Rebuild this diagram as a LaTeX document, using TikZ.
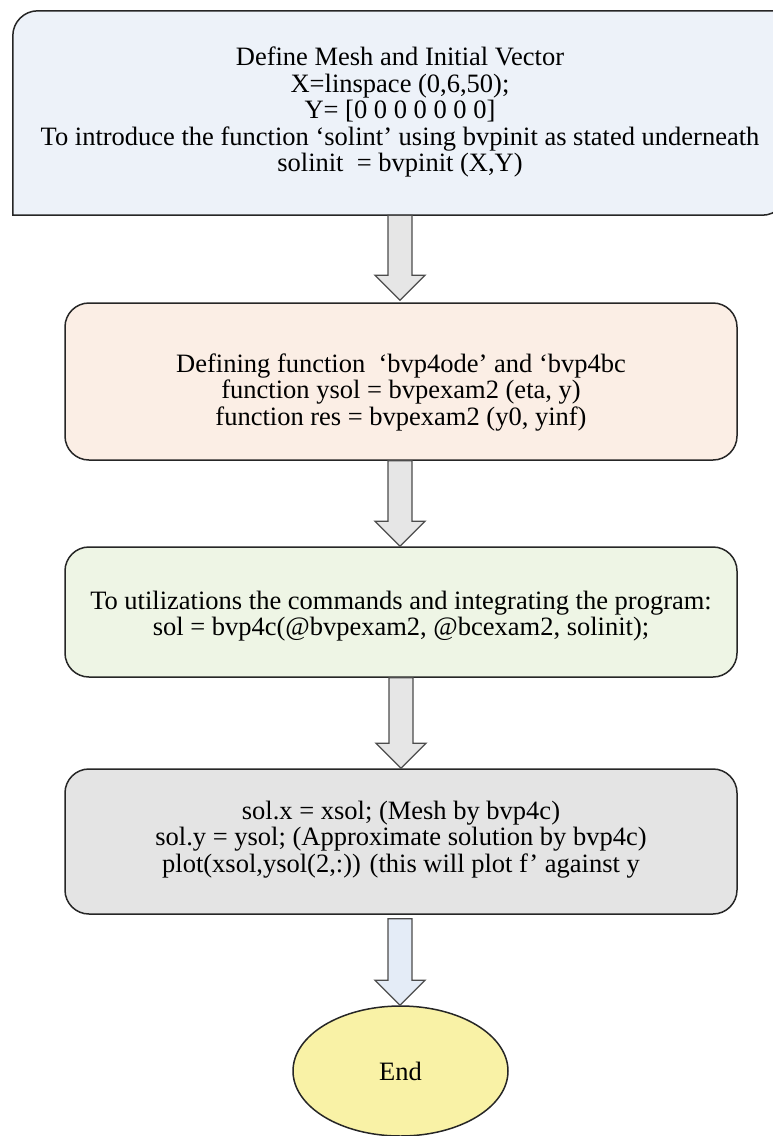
\documentclass[tikz,border=0pt]{standalone}
\usepackage{fontspec}
\setmainfont{Liberation Serif}
\usetikzlibrary{calc,shapes.geometric}
\definecolor{cbox1}{HTML}{EDF2F9}
\definecolor{cbox2}{HTML}{FBEEE5}
\definecolor{cbox3}{HTML}{EEF5E5}
\definecolor{cbox4}{HTML}{E4E4E4}
\definecolor{cend}{HTML}{F9F2A6}
\definecolor{carrg}{HTML}{E6E6E6}
\definecolor{carrb}{HTML}{E4ECF7}
\tikzset{
  txt/.style={align=center, font=\fontsize{26.5}{26.5}\selectfont, text=black, inner sep=0pt},
  boxline/.style={draw=black!85, line width=1.5pt},
  stepbox/.style={boxline, rounded corners=24pt, minimum width=672, inner sep=0pt},
  endnode/.style={txt, boxline, ellipse, minimum width=215, minimum height=130, inner sep=0pt},
  blk/.style={draw=black!70, line width=1.3pt, line join=miter},
}
\newcommand\blkarrow[3]{%
  \path let \p1=(#2), \p2=(#3) in
    [blk, fill=#1]
    (\x1-12pt,\y1) -- (\x1-12pt,\y2+25pt) -- (\x1-25pt,\y2+25pt) -- (\x1,\y2)
    -- (\x1+25pt,\y2+25pt) -- (\x1+12pt,\y2+25pt) -- (\x1+12pt,\y1) -- cycle;}
\begin{document}
\begin{tikzpicture}[x=1pt,y=-1pt]
\fill[white] (0,0) rectangle (773,1136);
\useasboundingbox (0,0) rectangle (773,1136);
% box 1
\node[minimum width=774, minimum height=204, inner sep=0pt] (b1) at (400,113) {};
\draw[boxline, fill=cbox1] (b1.north east) -- ([xshift=25pt]b1.north west) arc[start angle=90, end angle=180, radius=25pt]
  -- (b1.south west) -- ([xshift=-25pt]b1.south east) arc[start angle=270, end angle=360, radius=25pt] -- cycle;
\node[txt] (t1) at ([yshift=1pt]b1.center)
  {Define Mesh and Initial Vector\\
   X=linspace (0,6,50);\\
   Y= [0 0 0 0 0 0 0]\\
   To introduce the function ‘solint’ using bvpinit as stated underneath\\
   solinit\ \ = bvpinit (X,Y)};
% box 2
\node[stepbox, fill=cbox2, minimum height=157] (b2) at (401,381.5) {};
\node[txt] (t2) at ([yshift=-11pt]b2.center)
  {Defining function\ \ ‘bvp4ode’ and ‘bvp4bc\\
   function ysol = bvpexam2 (eta, y)\\
   function res = bvpexam2 (y0, yinf)};
% box 3
\node[stepbox, fill=cbox3, minimum height=130] (b3) at (401,612) {};
\node[txt] (t3) at ([yshift=-4pt]b3.center)
  {To utilizations the commands and integrating the program:\\
   sol = bvp4c(@bvpexam2, @bcexam2, solinit);};
% box 4
\node[stepbox, fill=cbox4, minimum height=145] (b4) at (401,841.5) {};
\node[txt] (t4) at ([yshift=2pt]b4.center)
  {sol.x = xsol; (Mesh by bvp4c)\\
   sol.y = ysol; (Approximate solution by bvp4c)\\
   plot(xsol,ysol(2,:)) (this will plot f’ against y};
% end
\node[endnode, fill=cend] (end) at (400.5,1071) {End};
% arrows
\blkarrow{carrg}{b1.south}{[yshift=2pt]b2.north}
\blkarrow{carrg}{[xshift=-1pt]b2.south}{b3.north}
\blkarrow{carrg}{b3.south}{b4.north}
\blkarrow{carrb}{[shift={(-1pt,-4pt)}]b4.south}{end.north}
\end{tikzpicture}
\end{document}
